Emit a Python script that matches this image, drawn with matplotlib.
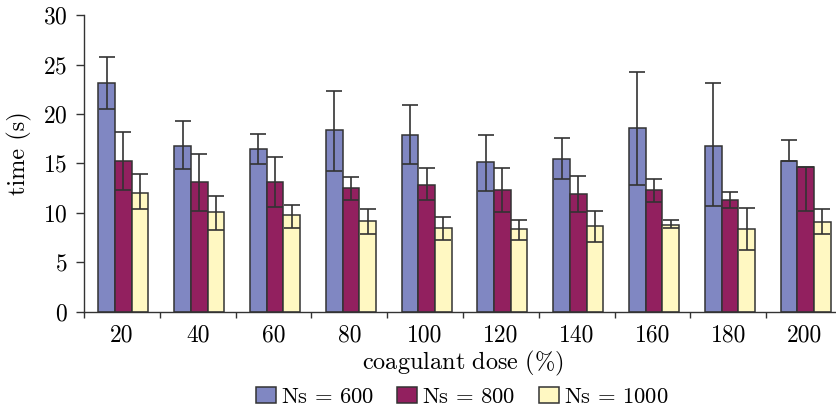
import numpy as np
import matplotlib
matplotlib.use("Agg")
import matplotlib.pyplot as plt

plt.rcParams['font.family'] = ['cmr10', 'DejaVu Serif']
plt.rcParams['mathtext.fontset'] = 'cm'
plt.rcParams['axes.unicode_minus'] = False
plt.rcParams['axes.formatter.use_mathtext'] = True

# data
doses = ['20', '40', '60', '80', '100', '120', '140', '160', '180', '200']
series = [r'$\mathrm{Ns}\,=\,600$', r'$\mathrm{Ns}\,=\,800$', r'$\mathrm{Ns}\,=\,1000$']

ns600 = [23.15, 16.8, 16.5, 18.4, 17.9, 15.1, 15.4, 18.55, 16.8, 15.25]
ns600_lo = [2.6, 2.4, 1.6, 4.2, 3.0, 2.9, 2.0, 5.75, 6.15, 0.0]
ns600_hi = [2.6, 2.45, 1.5, 3.95, 3.05, 2.75, 2.2, 5.65, 6.3, 2.15]

ns800 = [15.25, 13.1, 13.1, 12.5, 12.8, 12.35, 11.9, 12.35, 11.25, 14.65]
ns800_lo = [2.95, 2.9, 2.5, 1.25, 1.55, 2.3, 1.85, 1.25, 0.75, 4.45]
ns800_hi = [2.95, 2.9, 2.5, 1.1, 1.7, 2.15, 1.85, 1.05, 0.9, 0.0]

ns1000 = [12.05, 10.05, 9.75, 9.15, 8.5, 8.35, 8.65, 8.8, 8.35, 9.1]
ns1000_lo = [1.7, 1.75, 1.25, 1.25, 1.2, 1.05, 1.55, 0.3, 2.15, 1.25]
ns1000_hi = [1.85, 1.65, 1.05, 1.2, 1.1, 0.95, 1.5, 0.45, 2.1, 1.3]

colors = ['#8087c2', '#92205f', '#fff8c2']
edge = '#333333'

fig = plt.figure(figsize=(8.37, 4.07), dpi=100)
ax = fig.add_axes([0.1004, 0.234, 0.9056, 0.729])

x = np.arange(len(doses))
width = 0.22
values = [ns600, ns800, ns1000]
lows = [ns600_lo, ns800_lo, ns1000_lo]
highs = [ns600_hi, ns800_hi, ns1000_hi]

for i in range(3):
    pos = x + (i - 1) * width + 0.02
    ax.bar(pos, values[i], width, color=colors[i], edgecolor=edge, linewidth=1.1,
           label=series[i], zorder=2)
    ax.errorbar(pos, values[i], yerr=[lows[i], highs[i]], fmt='none', ecolor=edge,
                elinewidth=1.2, capsize=5.8, capthick=1.2, zorder=3)

ax.set_xlim(-0.5, 9.5)
ax.set_ylim(0, 30)
ax.set_yticks(np.arange(0, 31, 5))
ax.set_xticks(np.arange(-0.5, 10, 1))
ax.set_xticklabels([])
ax.set_xticks(x, minor=True)
ax.set_xticklabels(doses, minor=True)
ax.tick_params(axis='x', which='major', direction='out', length=4.5, width=1, color=edge)
ax.tick_params(axis='x', which='minor', length=0, pad=9, labelsize=17)
ax.tick_params(axis='y', direction='out', length=5.8, width=1, color=edge, pad=6, labelsize=17)

for s in ['top', 'right']:
    ax.spines[s].set_visible(False)
for s in ['left', 'bottom']:
    ax.spines[s].set_color(edge)
    ax.spines[s].set_linewidth(1.0)

ax.set_xlabel(r'$\mathrm{coagulant\ dose\ (\%)}$', fontsize=17.5, labelpad=2)
ax.set_ylabel('time (s)', fontsize=17.5)
ax.yaxis.set_label_coords(-0.068, 0.535)

fig.legend(loc='lower center', ncol=3, frameon=False, fontsize=16.3,
           bbox_to_anchor=(0.552, -0.05), handlelength=0.88, handleheight=0.72,
           columnspacing=1.05, handletextpad=0.22)

fig.savefig('out.png', dpi=100)
